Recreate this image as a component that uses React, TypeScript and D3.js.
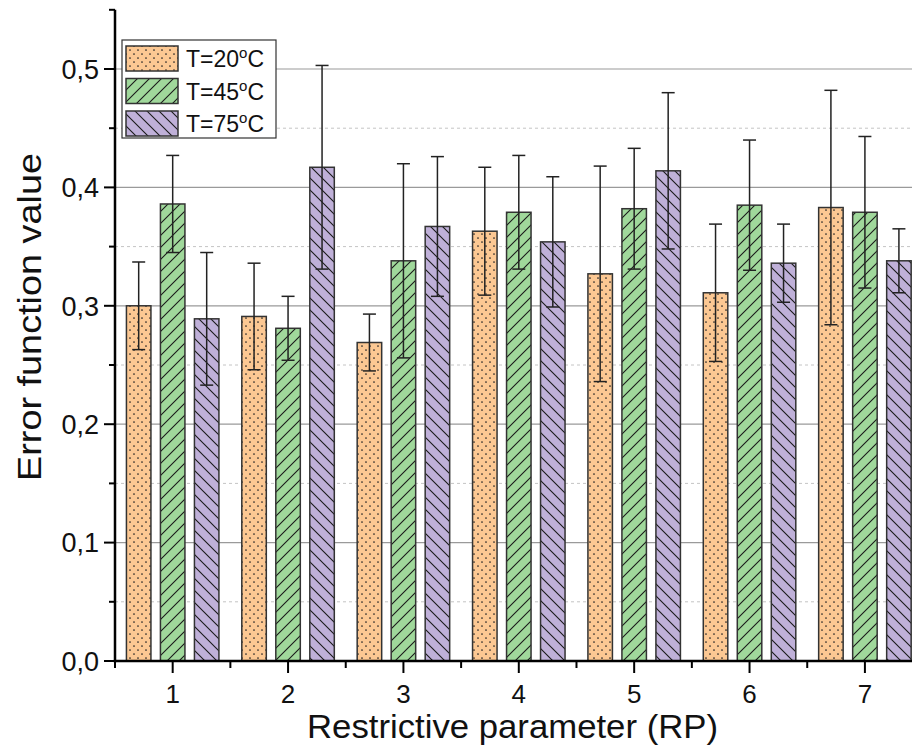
import React from "react";
import * as d3 from "d3";

const categories = [1, 2, 3, 4, 5, 6, 7];
const seriesLabels = ["20", "45", "75"];
const t20 = [0.300, 0.291, 0.269, 0.363, 0.327, 0.311, 0.383];
const t20err = [0.037, 0.045, 0.024, 0.054, 0.091, 0.058, 0.099];
const t45 = [0.386, 0.281, 0.338, 0.379, 0.382, 0.385, 0.379];
const t45err = [0.041, 0.027, 0.082, 0.048, 0.051, 0.055, 0.064];
const t75 = [0.289, 0.417, 0.367, 0.354, 0.414, 0.336, 0.338];
const t75err = [0.056, 0.086, 0.059, 0.055, 0.066, 0.033, 0.027];
const yTicks = [0, 0.1, 0.2, 0.3, 0.4, 0.5];
const yTickLabels = ["0,0", "0,1", "0,2", "0,3", "0,4", "0,5"];
const yMinorTicks = [0.05, 0.15, 0.25, 0.35, 0.45, 0.55];
const xMinorTicks = [0.5, 1.5, 2.5, 3.5, 4.5, 5.5, 6.5, 7.5];

const W = 912;
const H = 750;
const FONT = "Liberation Sans, Arial, sans-serif";

export default function App() {
  const x = d3.scaleLinear().domain([0.5, 7.5]).range([115, 922.6]);
  const y = d3.scaleLinear().domain([0, 0.55]).range([661, 9.8]);
  const unit = x(1) - x(0);
  const offs = 34 / 115.37;
  const bw = 24.5 / 115.37;

  const series = [
    { vals: t20, errs: t20err, fill: "url(#pDots)", label: seriesLabels[0] },
    { vals: t45, errs: t45err, fill: "url(#pFwd)", label: seriesLabels[1] },
    { vals: t75, errs: t75err, fill: "url(#pBack)", label: seriesLabels[2] },
  ];

  const orange = "#FCC893";
  const green = "#A0D89B";
  const purple = "#BFB0D8";
  const edge = "#333";

  return (
    <svg width={W} height={H} style={{ position: "absolute", left: 0, top: 0, background: "#fff" }} fontFamily={FONT}>
      <defs>
        <pattern id="pDots" patternUnits="userSpaceOnUse" width={8} height={8}>
          <rect width={8} height={8} fill={orange} />
          <circle cx={2} cy={2} r={0.85} fill="#222" />
          <circle cx={6} cy={6} r={0.85} fill="#222" />
        </pattern>
        <pattern id="pFwd" patternUnits="userSpaceOnUse" width={12} height={12}>
          <rect width={12} height={12} fill={green} />
          <path d="M0,12 L12,0 M-3,3 L3,-3 M9,15 L15,9" stroke="#1a1a1a" strokeWidth={1.1} />
        </pattern>
        <pattern id="pBack" patternUnits="userSpaceOnUse" width={12} height={12}>
          <rect width={12} height={12} fill={purple} />
          <path d="M0,0 L12,12 M-3,9 L3,15 M9,-3 L15,3" stroke="#1a1a1a" strokeWidth={1.1} />
        </pattern>
      </defs>

      {/* grid */}
      {yMinorTicks.filter((t) => t < 0.5).map((t) => (
        <line key={"gm" + t} x1={x(0.5)} x2={W} y1={y(t)} y2={y(t)} stroke="#c4c4c4" strokeWidth={1} strokeDasharray="3,3" />
      ))}
      {yTicks.filter((t) => t > 0).map((t) => (
        <line key={"g" + t} x1={x(0.5)} x2={W} y1={y(t)} y2={y(t)} stroke="#9a9a9a" strokeWidth={1.2} />
      ))}

      {/* bars */}
      {series.map((s, si) =>
        categories.map((c, ci) => {
          const cx = c + (si - 1) * offs;
          const x0 = x(cx - bw / 2);
          const v = s.vals[ci];
          return (
            <rect key={`b${si}-${ci}`} x={x0} y={y(v)} width={bw * unit} height={y(0) - y(v)} fill={s.fill} stroke={edge} strokeWidth={1.5} />
          );
        })
      )}
      {/* error bars */}
      {series.map((s, si) =>
        categories.map((c, ci) => {
          const cx = x(c + (si - 1) * offs);
          const v = s.vals[ci];
          const e = s.errs[ci];
          return (
            <g key={`e${si}-${ci}`} stroke="#222" strokeWidth={1.5}>
              <line x1={cx} x2={cx} y1={y(v + e)} y2={y(v - e)} />
              <line x1={cx - 6.5} x2={cx + 6.5} y1={y(v + e)} y2={y(v + e)} />
              <line x1={cx - 6.5} x2={cx + 6.5} y1={y(v - e)} y2={y(v - e)} />
            </g>
          );
        })
      )}

      {/* axes */}
      <line x1={x(0.5)} x2={x(0.5)} y1={y(0) + 1.2} y2={y(0.55)} stroke="#000" strokeWidth={2.5} />
      <line x1={x(0.5) - 1.2} x2={W} y1={y(0)} y2={y(0)} stroke="#000" strokeWidth={2.5} />
      {yTicks.map((t, i) => (
        <g key={"yt" + t}>
          <line x1={x(0.5) - 11} x2={x(0.5)} y1={y(t)} y2={y(t)} stroke="#000" strokeWidth={2} />
          <text x={99} y={y(t)} dy="0.36em" textAnchor="end" fontSize={27} fill="#111">{yTickLabels[i]}</text>
        </g>
      ))}
      {yMinorTicks.map((t) => (
        <line key={"ym" + t} x1={x(0.5) - 6} x2={x(0.5)} y1={y(t)} y2={y(t)} stroke="#000" strokeWidth={2} />
      ))}
      {categories.map((c) => (
        <g key={"xt" + c}>
          <line x1={x(c)} x2={x(c)} y1={y(0)} y2={y(0) + 12} stroke="#000" strokeWidth={2} />
          <text x={x(c)} y={703} textAnchor="middle" fontSize={26} fill="#111">{c}</text>
        </g>
      ))}
      {xMinorTicks.map((t) => (
        <line key={"xm" + t} x1={x(t)} x2={x(t)} y1={y(0)} y2={y(0) + 7} stroke="#000" strokeWidth={2} />
      ))}

      {/* axis titles */}
      <text x={512.5} y={738} textAnchor="middle" fontSize={34} fill="#111" textLength={411} lengthAdjust="spacingAndGlyphs">Restrictive parameter (RP)</text>
      <text transform={`translate(41,317) rotate(-90)`} textAnchor="middle" fontSize={34} fill="#111" textLength={328} lengthAdjust="spacingAndGlyphs">Error function value</text>

      {/* legend */}
      <rect x={122} y={40} width={154} height={98} fill="#fff" stroke="#333" strokeWidth={1.2} />
      {series.map((s, i) => {
        const ry = 46 + i * 32.5;
        return (
          <g key={"lg" + i}>
            <rect x={126} y={ry} width={52} height={25} fill={s.fill} stroke={edge} strokeWidth={1.5} />
            <text x={186} y={ry + 21} fontSize={23} fill="#111">
              T={s.label}
              <tspan fontSize={15} dy={-9}>o</tspan>
              <tspan dy={9}>C</tspan>
            </text>
          </g>
        );
      })}
    </svg>
  );
}
